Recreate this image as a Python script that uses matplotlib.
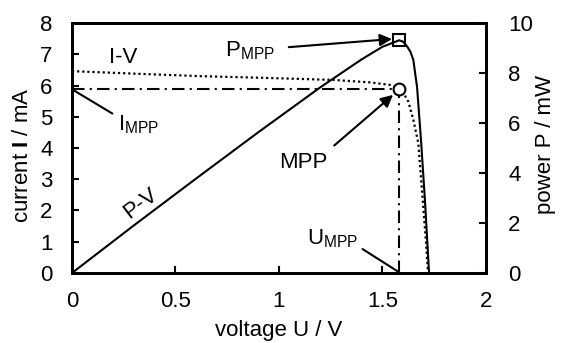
import matplotlib
matplotlib.use("Agg")
import matplotlib.pyplot as plt

plt.rcParams["font.family"] = ["Liberation Sans", "DejaVu Sans"]
plt.rcParams["mathtext.fontset"] = "custom"
plt.rcParams["mathtext.rm"] = "Liberation Sans"
plt.rcParams["mathtext.it"] = "Liberation Sans:italic"
plt.rcParams["mathtext.bf"] = "Liberation Sans:bold"
fs = 16

# I-V curve (voltage in V, current in mA)
iv_voltage = [0, 0.3, 0.62, 0.9, 1.26, 1.44, 1.536, 1.581, 1.605, 1.625, 1.649, 1.673, 1.697, 1.71, 1.72]
iv_current = [6.46, 6.38, 6.30, 6.25, 6.18, 6.10, 6.02, 5.89, 5.72, 5.48, 4.90, 4.16, 2.12, 1.0, 0]

# P-V curve (voltage in V, power in mW)
pv_voltage = [0, 0.3, 0.6, 0.9, 1.2, 1.4, 1.5, 1.581, 1.60, 1.62, 1.635, 1.649, 1.667, 1.686, 1.705, 1.725]
pv_power = [0, 1.91, 3.78, 5.63, 7.43, 8.55, 9.05, 9.31, 9.25, 9.05, 8.85, 8.52, 7.44, 5.32, 2.92, 0]

# maximum power point
u_mpp = 1.581
i_mpp = 5.89
p_mpp = 9.31

fig = plt.figure(figsize=(5.61, 3.43), dpi=100)
ax = fig.add_axes([0.1283, 0.2041, 0.738, 0.7288])
ax2 = ax.twinx()

dashdot = (0, (6, 2.5, 1, 2.5))
ax.plot(iv_voltage, iv_current, color="black", lw=1.6, linestyle=(0, (1, 1.3)))
ax.plot([0, u_mpp], [i_mpp, i_mpp], color="black", lw=1.5, linestyle=dashdot)
ax.plot([u_mpp, u_mpp], [0, i_mpp], color="black", lw=1.5, linestyle=dashdot)
ax.plot([u_mpp], [i_mpp], marker="o", ms=8.5, mfc="white", mec="black", mew=1.5, zorder=5)

ax2.plot(pv_voltage, pv_power, color="black", lw=1.5)
ax2.plot([u_mpp], [p_mpp], marker="s", ms=9, mfc="none", mec="black", mew=1.5, zorder=5)

ax.set_xlim(0, 2)
ax.set_ylim(0, 8)
ax2.set_ylim(0, 10)
ax.set_xticks([0, 0.5, 1, 1.5, 2])
ax.set_xticklabels(["0", "0.5", "1", "1.5", "2"])
ax.set_yticks(range(0, 9))
ax2.set_yticks(range(0, 11, 2))

for a in (ax, ax2):
    for s in a.spines.values():
        s.set_linewidth(2)
    a.tick_params(direction="in", width=1.5, length=5, labelsize=fs)
ax.tick_params(axis="x", pad=13)
ax.tick_params(axis="y", pad=14)
ax2.tick_params(axis="y", pad=16)

ax.set_xlabel("voltage U / V", fontsize=fs)
ax.set_ylabel(r"current $\mathbf{I}$ / mA", fontsize=fs)
ax2.set_ylabel("power P / mW", fontsize=fs)
ax.xaxis.set_label_coords(0.5, -0.19)
ax.yaxis.set_label_coords(-0.094, 0.47)
ax2.yaxis.set_label_coords(1.118, 0.514)

# labels and pointers
ax.text(0.246, 6.9, "I-V", fontsize=fs, ha="center", va="center")
ax2.text(0.33, 2.8, "P-V", fontsize=fs, ha="center", va="center", rotation=37)

ax.annotate(r"I$_\mathrm{MPP}$", xy=(0.01, i_mpp - 0.05), xytext=(0.22, 4.75),
            fontsize=fs, ha="left", va="center",
            arrowprops=dict(arrowstyle="-", color="black", lw=1.5, shrinkA=2, shrinkB=0,
                            relpos=(0, 0.85)))
ax.annotate("MPP", xy=(1.551, 5.70), xytext=(1.116, 3.55),
            fontsize=fs, ha="center", va="center",
            arrowprops=dict(arrowstyle="-|>", color="black", lw=1.5, mutation_scale=18,
                            shrinkA=4, shrinkB=0, relpos=(1.0, 1.0)))
ax.annotate(r"U$_\mathrm{MPP}$", xy=(u_mpp, 0.02), xytext=(1.261, 1.1),
            fontsize=fs, ha="center", va="center",
            arrowprops=dict(arrowstyle="-", color="black", lw=1.5, shrinkA=1, shrinkB=0,
                            relpos=(1.0, 0.15)))
ax2.annotate(r"P$_\mathrm{MPP}$", xy=(1.546, 9.36), xytext=(0.86, 8.9),
             fontsize=fs, ha="center", va="center",
             arrowprops=dict(arrowstyle="-|>", color="black", lw=1.5, mutation_scale=18,
                             shrinkA=8, shrinkB=0, relpos=(1.0, 0.6)))

fig.savefig("out.png", dpi=100)
